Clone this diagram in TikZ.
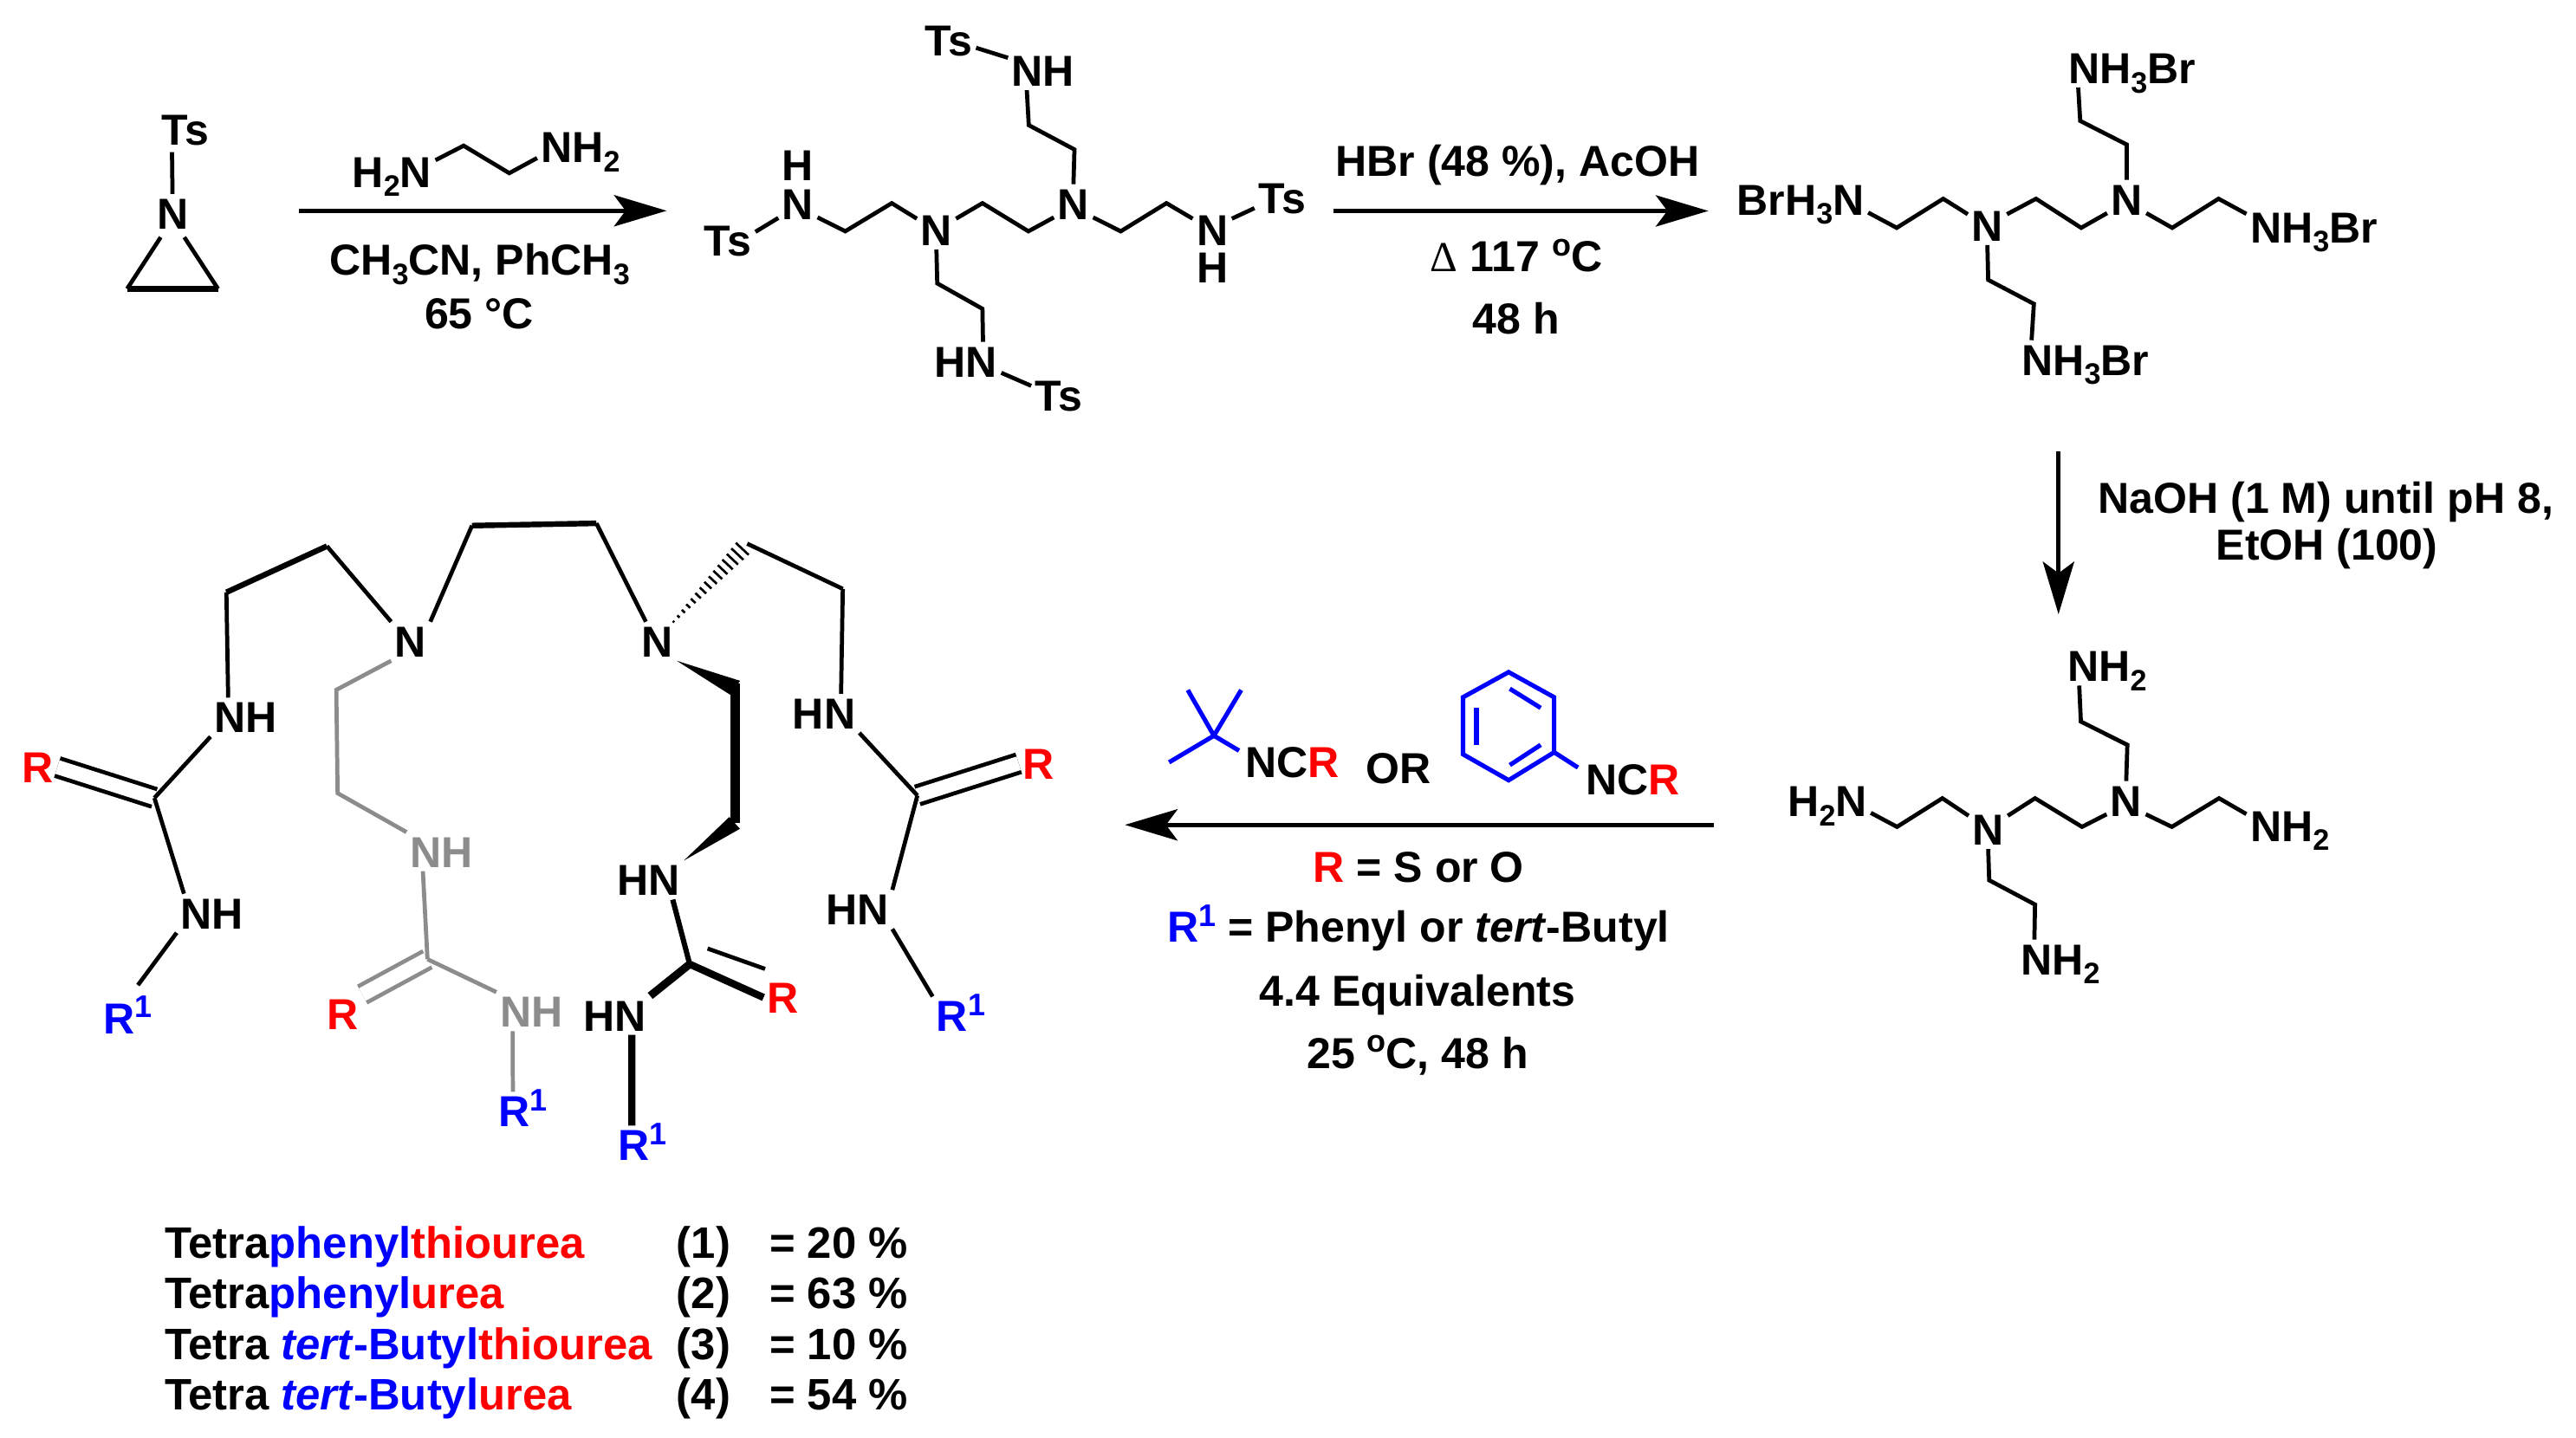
\documentclass[tikz,border=0pt]{standalone}
\usepackage{fontspec}
\usepackage{xcolor}
\setmainfont{Liberation Sans}
\newfontfamily\symf{Liberation Serif}
\usetikzlibrary{arrows.meta,calc}
\definecolor{rr}{RGB}{255,0,0}
\definecolor{bb}{RGB}{0,0,255}
\definecolor{gg}{RGB}{140,140,140}
\newcommand{\upx}[1]{\raisebox{4.8pt}{\fontsize{9.5}{10}\selectfont #1}}
\newcommand{\dnx}[1]{\raisebox{-2.8pt}{\fontsize{9}{10}\selectfont #1}}
\newcommand{\Rr}{\textcolor{rr}{R}}
\newcommand{\Rb}{\textcolor{bb}{R\upx{1}}}
\tikzset{
  lab/.style={font=\bfseries\fontsize{13.2}{15}\selectfont,inner sep=1pt,text depth=0pt,text height=9.5pt},
  hlab/.style={lab,inner sep=0pt,text height=8.5pt},
  tabl/.style={font=\bfseries\fontsize{13.4}{15}\selectfont,inner sep=0pt,anchor=base west},
  bond/.style={draw=black,line width=1.25pt,line join=miter},
  gbond/.style={bond,draw=gg},
  hbond/.style={bond,line width=1.7pt},
  dbl/.style={bond,double,double distance=4.3pt},
  gdbl/.style={dbl,draw=gg},
  bluebond/.style={draw=bb,line width=1.35pt},
  rxn/.style={line width=1.4pt,-{Stealth[length=16pt,width=9.5pt,inset=3.5pt]}}
}
\begin{document}
\begin{tikzpicture}[x=0.5pt,y=-0.5pt]
\useasboundingbox (0,0) rectangle (1568,875);
\fill[white] (0,0) rectangle (1568,875);

% ---------- aziridine
\node[lab] (azts) at (112.7,78.7) {Ts};
\node[lab] (azn) at (105,130) {N};
\coordinate (azl) at (77.4,175.8);
\coordinate (azr) at (132.7,175.8);
\draw[bond,shorten <=1pt] (azts.236) -- (azn.north);
\draw[bond,shorten <=1.5pt] (azn.-115) -- (azl);
\draw[bond,shorten <=1.5pt] (azn.-65) -- (azr);
\draw[line width=1.7pt] (azl) -- (azr);

% ---------- first arrow
\coordinate (a1s) at (181.7,128.3);
\coordinate (a1e) at (405.8,128.3);
\draw[rxn] (a1s) -- (a1e);
\node[lab] (enl) at (238.6,104.6) {H\dnx{2}N};
\node[lab] (enr) at (353.4,89.6) {NH\dnx{2}};
\coordinate (en1) at (282.2,88.7);
\coordinate (en2) at (310,105.4);
\draw[bond] (enl.15) -- (en1) -- (en2) -- (enr.194);
\node[lab] (c1) at (292,158.2) {CH\dnx{3}CN, PhCH\dnx{3}};
\node[lab] (c2) at (291.6,190.7) {65 °C};

% ---------- tosyl tetraamine
\node[lab] (tsl) at (443,146.6) {Ts};
\node[lab] (tnl) at (485.7,124) {N};
\node[hlab] (thl) at (485.7,101.2) {H};
\node[lab] (tn1) at (570,140) {N};
\node[lab] (tn2) at (653.4,124) {N};
\node[lab] (tnr) at (737.9,140) {N};
\node[hlab] (thr) at (737.9,163.5) {H};
\node[lab] (tsr) at (780.4,120.6) {Ts};
\node[lab] (tnu) at (635,43) {NH};
\node[lab] (tsu) at (577.3,24.6) {Ts};
\node[lab] (tnd) at (588,220) {HN};
\node[lab] (tsd) at (644.5,241) {Ts};
\coordinate (tv1) at (514.5,140.8);
\coordinate (tv2) at (542.8,123.7);
\coordinate (tv3) at (598,123.7);
\coordinate (tv4) at (626,140.8);
\coordinate (tv5) at (682.2,140.8);
\coordinate (tv6) at (710,123.7);
\coordinate (tv7) at (654,91);
\coordinate (tv8) at (626.2,76.2);
\coordinate (tv9) at (570.5,172.5);
\coordinate (tv10) at (598,188);
\draw[bond] (tsl.18) -- (tnl.216);
\draw[bond] (tnl.-35) -- (tv1) -- (tv2) -- (tn1.150);
\draw[bond] (tn1.30) -- (tv3) -- (tv4) -- (tn2.-145);
\draw[bond] (tn2.-35) -- (tv5) -- (tv6) -- (tnr.150);
\draw[bond] (tnr.30) -- (tsr.-160);
\draw[bond] (tn2.north) -- (tv7) -- (tv8) -- (tnu.230);
\draw[bond] (tnu.160) -- (tsu.-15);
\draw[bond] (tn1.south) -- (tv9) -- (tv10) -- (tnd.49);
\draw[bond] (tnd.-18) -- (tsd.160);

% ---------- second arrow
\coordinate (a2s) at (811.8,128.4);
\coordinate (a2e) at (1039.9,128.4);
\draw[rxn] (a2s) -- (a2e);
\node[lab] (h1) at (923.8,97.6) {HBr (48 \%), AcOH};
\node[lab] (h2) at (923,156) {{\symf\mdseries\fontsize{13}{15}\selectfont Δ} 117 \upx{o}C};
\node[lab] (h3) at (923,193.8) {48 h};

% ---------- ammonium salt
\node[lab] (bl) at (1096,121.4) {BrH\dnx{3}N};
\node[lab] (bn1) at (1209.7,137.3) {N};
\node[lab] (bn2) at (1294.5,121.4) {N};
\node[lab] (br) at (1408.5,138.2) {NH\dnx{3}Br};
\node[lab] (bu) at (1297.7,41.4) {NH\dnx{3}Br};
\node[lab] (bd) at (1269.3,219) {NH\dnx{3}Br};
\coordinate (bv1) at (1154.5,138.7);
\coordinate (bv2) at (1182.8,121);
\coordinate (bv3) at (1239.3,121);
\coordinate (bv4) at (1266.8,138.7);
\coordinate (bv5) at (1322.2,138.7);
\coordinate (bv6) at (1350.4,121);
\coordinate (bv7) at (1294.5,88);
\coordinate (bv8) at (1266.2,73.6);
\coordinate (bv9) at (1210.2,170.4);
\coordinate (bv10) at (1238,185);
\draw[bond] (bl.-11) -- (bv1) -- (bv2) -- (bn1.150);
\draw[bond] (bn1.30) -- (bv3) -- (bv4) -- (bn2.-145);
\draw[bond] (bn2.-35) -- (bv5) -- (bv6) -- (br.169);
\draw[bond] (bn2.north) -- (bv7) -- (bv8) -- (bu.200);
\draw[bond] (bn1.south) -- (bv9) -- (bv10) -- (bd.160);

% ---------- third arrow
\coordinate (a3s) at (1253,275);
\coordinate (a3e) at (1253,374);
\draw[rxn] (a3s) -- (a3e);
\node[lab] (n1) at (1415.7,303) {NaOH (1 M) until pH 8,};
\node[lab] (n2) at (1416.4,331.6) {EtOH (100)};

% ---------- free amine
\node[lab] (fl) at (1112.3,487.8) {H\dnx{2}N};
\node[lab] (fn1) at (1210.2,505) {N};
\node[lab] (fn2) at (1294.2,487.4) {N};
\node[lab] (fr) at (1393.8,502.7) {NH\dnx{2}};
\node[lab] (fu) at (1282.6,405.5) {NH\dnx{2}};
\node[lab] (fd) at (1254.1,583.9) {NH\dnx{2}};
\coordinate (fv1) at (1154.7,503.4);
\coordinate (fv2) at (1182.3,486);
\coordinate (fv3) at (1238.7,486);
\coordinate (fv4) at (1267.3,503.4);
\coordinate (fv5) at (1322,503.4);
\coordinate (fv6) at (1350.7,486);
\coordinate (fv7) at (1294.9,453.5);
\coordinate (fv8) at (1266.6,439.3);
\coordinate (fv9) at (1210.8,535.9);
\coordinate (fv10) at (1238.7,550.7);
\draw[bond] (fl.-15) -- (fv1) -- (fv2) -- (fn1.145);
\draw[bond] (fn1.35) -- (fv3) -- (fv4) -- (fn2.-145);
\draw[bond] (fn2.-35) -- (fv5) -- (fv6) -- (fr.165);
\draw[bond] (fn2.north) -- (fv7) -- (fv8) -- (fu.215);
\draw[bond] (fn1.south) -- (fv9) -- (fv10) -- (fd.143);

% ---------- fourth arrow and reagents
\coordinate (a4s) at (1043,502.2);
\coordinate (a4e) at (684.7,502.2);
\draw[rxn] (a4s) -- (a4e);
\coordinate (tb) at (738.9,447.9);
\coordinate (tb1) at (723,420.1);
\coordinate (tb2) at (755.5,420.1);
\coordinate (tb3) at (711.6,464.1);
\coordinate (tb4) at (754.2,457);
\draw[bluebond] (tb1) -- (tb);
\draw[bluebond] (tb2) -- (tb);
\draw[bluebond] (tb3) -- (tb);
\draw[bluebond] (tb4) -- (tb);
\node[lab] (ncr1) at (786.8,464.1) {NC\Rr};
\node[lab] (orr) at (851.4,467.6) {OR};
\coordinate (ph1) at (918.3,409.2);
\coordinate (ph2) at (946,424.5);
\coordinate (ph3) at (946,458);
\coordinate (ph4) at (918.3,475);
\coordinate (ph5) at (890.5,459.2);
\coordinate (ph6) at (890.5,424.5);
\coordinate (phs) at (960.5,467.3);
\coordinate (pi1) at (919,419.3);
\coordinate (pi2) at (937.8,431);
\coordinate (pi3) at (919,465.8);
\coordinate (pi4) at (937.8,453.5);
\coordinate (pi5) at (898.7,431);
\coordinate (pi6) at (898.7,453.5);
\draw[bluebond,line join=miter] (ph1) -- (ph2) -- (ph3) -- (ph4) -- (ph5) -- (ph6) -- cycle;
\draw[bluebond] (pi1) -- (pi2);
\draw[bluebond] (pi3) -- (pi4);
\draw[bluebond] (pi5) -- (pi6);
\draw[bluebond] (ph3) -- (phs);
\node[lab] (ncr2) at (993.8,474.6) {NC\Rr};
\node[lab] (r1) at (863.5,527.7) {\Rr{} = S or O};
\node[lab] (r2) at (863.4,564.3) {\Rb{} = Phenyl or \textit{tert}-Butyl};
\node[lab] (r3) at (862.9,603) {4.4 Equivalents};
\node[lab] (r4) at (862.9,640.8) {25 \upx{o}C, 48 h};

% ---------- macrocycle-like product
\node[lab] (pn1) at (250,390.4) {N};
\node[lab] (pn2) at (400,390.4) {N};
\coordinate (pa1) at (137.8,360.6);
\coordinate (pa2) at (199,332.5);
\coordinate (pb1) at (287.3,320);
\coordinate (pb2) at (363,318.6);
\coordinate (pc1) at (454.8,331);
\coordinate (pc2) at (513,358.5);
\draw[bond] (pn1.north west) -- (pa2);
\draw[hbond] (pa2) -- (pa1);
\draw[bond] (pn1.north east) -- (pb1);
\draw[hbond] (pb1) -- (pb2);
\draw[bond] (pb2) -- (pn2.120);
\draw[bond] (pc1) -- (pc2);

% left arm
\node[lab] (lh1) at (149.6,436.6) {NH};
\node[lab] (lr) at (23,467) {\Rr};
\node[lab] (lh2) at (129,556) {NH};
\node[lab] (lr1) at (78,619.7) {\Rb};
\coordinate (lc) at (94,485.8);
\draw[bond] (pa1) -- (lh1.132);
\draw[dbl] (lc) -- (lr.east);
\draw[bond] (lh1.south west) -- (lc);
\draw[bond] (lc) -- (lh2.145);
\draw[bond,shorten >=5pt] (lh2.south west) -- (lr1.north);

% right arm
\node[lab] (rh1) at (501.6,434.3) {HN};
\node[lab] (rr) at (632,464.7) {\Rr};
\node[lab] (rh2) at (521.7,553.7) {HN};
\node[lab] (rr1) at (584.9,618.6) {\Rb};
\coordinate (rc) at (558.4,484.3);
\draw[bond] (pc2) -- (rh1.49);
\draw[dbl] (rc) -- (rr.west);
\draw[bond] (rh1.south east) -- (rc);
\draw[bond] (rc) -- (rh2.north east);
\draw[bond] (rh2.south east) -- (rr1.north west);

% hashed bond
\foreach \i [evaluate=\i as \t using \i/15, evaluate=\i as \w using 0.3+0.17*\i] in {0,...,14}
  \draw[line width=0.7pt] ($(pn2.50)!\t!(pc1)!\w pt!90:(pc1)$) -- ($(pn2.50)!\t!(pc1)!\w pt!-90:(pc1)$);

% grey arm
\node[lab,text=gg] (gh1) at (268.9,518.5) {NH};
\node[lab] (gr) at (208.6,617.4) {\Rr};
\node[lab,text=gg] (gh2) at (323.6,615.9) {NH};
\node[lab] (gr1) at (318.5,676.6) {\Rb};
\coordinate (g1) at (204.7,420);
\coordinate (g2) at (205.5,482.9);
\coordinate (gc) at (260.2,584);
\draw[gbond] (pn1.south west) -- (g1) -- (g2) -- (gh1.north west);
\draw[gdbl] (gc) -- (gr.north east);
\draw[gbond] (gh1.226) -- (gc);
\draw[gbond] (gc) -- (gh2.north west);
\draw[gbond] (gh2.226) -- (gr1.118);

% bold front arm
\node[lab] (kh1) at (394.8,535.8) {HN};
\node[lab] (kr) at (476.7,607.3) {\Rr};
\node[lab] (kh2) at (374.3,618.2) {HN};
\node[lab] (kr1) at (390.9,697.2) {\Rb};
\coordinate (k1a) at (444.5,423);
\coordinate (k1b) at (450.5,414.5);
\coordinate (k1) at (447.6,416);
\coordinate (k2) at (447.6,501);
\coordinate (k2a) at (443.9,497.4);
\coordinate (k2b) at (450.4,504.6);
\coordinate (kc) at (419.8,587);
\coordinate (kd1) at (430.7,577.5);
\coordinate (kd2) at (465.7,589.9);
\fill (pn2.south east) -- (k1a) -- (k1b) -- cycle;
\draw[line width=2.8pt] (k1) -- (k2);
\fill (kh1.north east) -- (k2a) -- (k2b) -- cycle;
\draw[line width=1.6pt] (kh1.-39) -- (kc);
\draw[line width=2.4pt] (kc) -- (kh2.north east);
\draw[line width=2.2pt] (kc) -- (kr.west);
\draw[bond] (kd1) -- (kd2);
\draw[line width=2.2pt] (kh2.-49) -- (kr1.118);

% ---------- yield table
\node[tabl] (y1) at (99.9,765.9) {Tetra\textcolor{bb}{phenyl}\textcolor{rr}{thiourea}};
\node[tabl] (y2) at (99.9,796.5) {Tetra\textcolor{bb}{phenyl}\textcolor{rr}{urea}};
\node[tabl] (y3) at (99.9,827.5) {Tetra \textcolor{bb}{\textit{tert}-Butyl}\textcolor{rr}{thiourea}};
\node[tabl] (y4) at (99.9,858.4) {Tetra \textcolor{bb}{\textit{tert}-Butyl}\textcolor{rr}{urea}};
\node[tabl] (n1t) at (411.5,765.9) {(1)};
\node[tabl] (n2t) at (411.5,796.5) {(2)};
\node[tabl] (n3t) at (411.5,827.5) {(3)};
\node[tabl] (n4t) at (411.5,858.4) {(4)};
\node[tabl] (p1) at (468,765.9) {= 20 \%};
\node[tabl] (p2) at (468,796.5) {= 63 \%};
\node[tabl] (p3) at (468,827.5) {= 10 \%};
\node[tabl] (p4) at (468,858.4) {= 54 \%};
\end{tikzpicture}
\end{document}
